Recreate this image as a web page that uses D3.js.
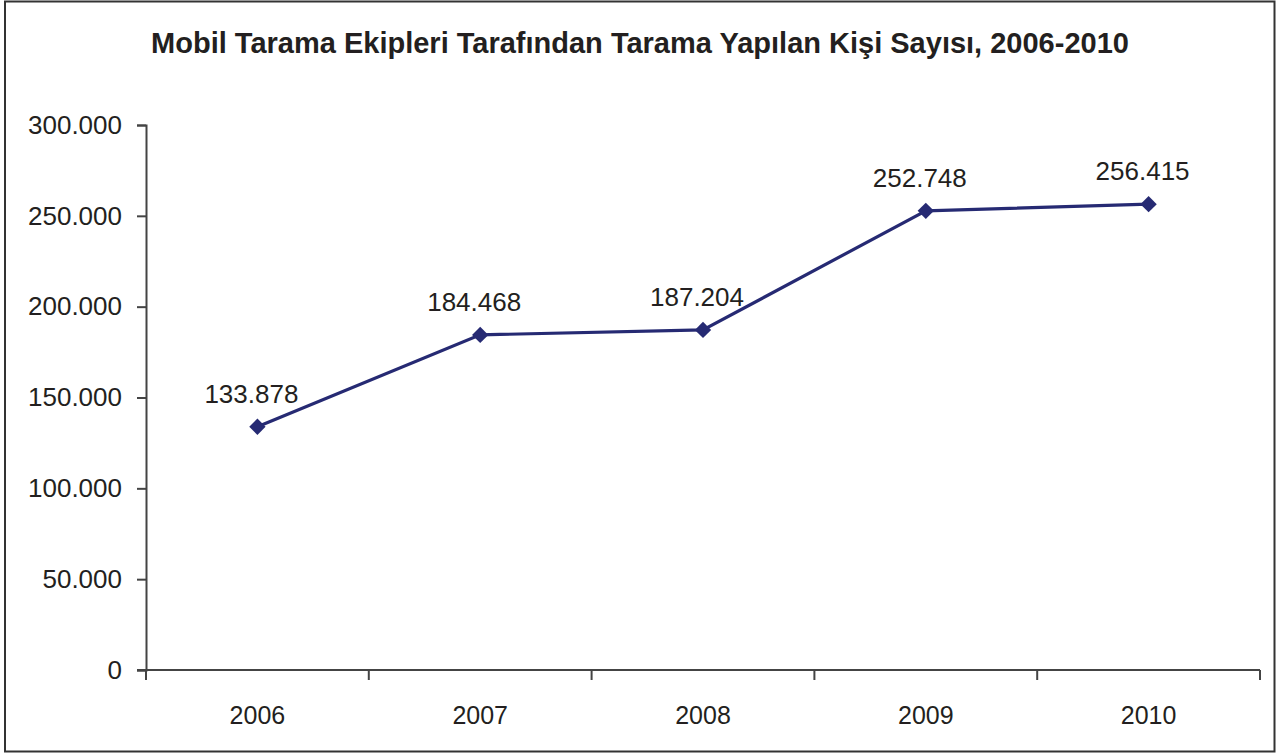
<!DOCTYPE html>
<html><head><meta charset="utf-8">
<script src="https://cdn.jsdelivr.net/npm/d3@7"></script>
<style>body{margin:0;background:#fff}svg{display:block}text{font-family:"Liberation Sans",Arial,Helvetica,sans-serif;fill:#231f20}</style>
</head><body>
<svg id="c" width="1278" height="755"></svg>
<script>
const years = ["2006","2007","2008","2009","2010"];
const values = [133878, 184468, 187204, 252748, 256415];
const yTicks = [0, 50000, 100000, 150000, 200000, 250000, 300000];
const title = "Mobil Tarama Ekipleri Tarafından Tarama Yapılan Kişi Sayısı, 2006-2010";

(function(){
const svg = d3.select("#c");
const fmt = v => d3.format(",")(v).replace(/,/g, ".");

svg.append("rect").attr("x",5).attr("y",1.5).attr("width",1269.5).attr("height",750)
  .attr("fill","none").attr("stroke","#333").attr("stroke-width",2);

svg.append("text").attr("x",640).attr("y",53).attr("text-anchor","middle")
  .attr("font-size",29).attr("font-weight","bold").text(title);

const pl=146, pr=1260, pt=125, pb=670;
const x = d3.scaleBand().domain(years).range([pl,pr]);
const y = d3.scaleLinear().domain([0,300000]).range([pb,pt]);

const ya = svg.append("g").attr("transform",`translate(${pl},0)`)
  .call(d3.axisLeft(y).tickValues(yTicks).tickFormat(fmt).tickSize(9).tickPadding(15));
ya.select(".domain").attr("stroke","#444").attr("stroke-width",2);
ya.selectAll(".tick line").attr("stroke","#444").attr("stroke-width",2);
ya.selectAll(".tick text").attr("font-size",26).attr("font-family","Liberation Sans, Arial, sans-serif").attr("fill","#231f20");

const xa = svg.append("g").attr("transform",`translate(0,${pb})`);
xa.append("line").attr("x1",pl-9).attr("x2",pr).attr("stroke","#444").attr("stroke-width",2);
const bounds = years.map(d=>x(d)).concat([x(years[years.length-1])+x.bandwidth()]);
xa.selectAll("line.t").data(bounds).join("line").attr("class","t")
  .attr("x1",d=>d).attr("x2",d=>d).attr("y1",0).attr("y2",10).attr("stroke","#444").attr("stroke-width",2);
xa.selectAll("text").data(years).join("text")
  .attr("x",d=>x(d)+x.bandwidth()/2).attr("y",54).attr("text-anchor","middle")
  .attr("font-size",25).text(d=>d);

const pts = years.map((d,i)=>[x(d)+x.bandwidth()/2, y(values[i]), values[i]]);
svg.append("path").datum(pts).attr("d",d3.line().x(d=>d[0]).y(d=>d[1]))
  .attr("fill","none").attr("stroke","#262a73").attr("stroke-width",3.2);
svg.selectAll("path.m").data(pts).join("path").attr("class","m")
  .attr("transform",d=>`translate(${d[0]},${d[1]})`)
  .attr("d",d3.symbol().type(d3.symbolDiamond2).size(170))
  .attr("fill","#262a73");
svg.selectAll("text.l").data(pts).join("text").attr("class","l")
  .attr("x",d=>d[0]-6).attr("y",d=>d[1]-24).attr("text-anchor","middle")
  .attr("font-size",26).text(d=>fmt(d[2]));
})();
</script>
</body></html>
